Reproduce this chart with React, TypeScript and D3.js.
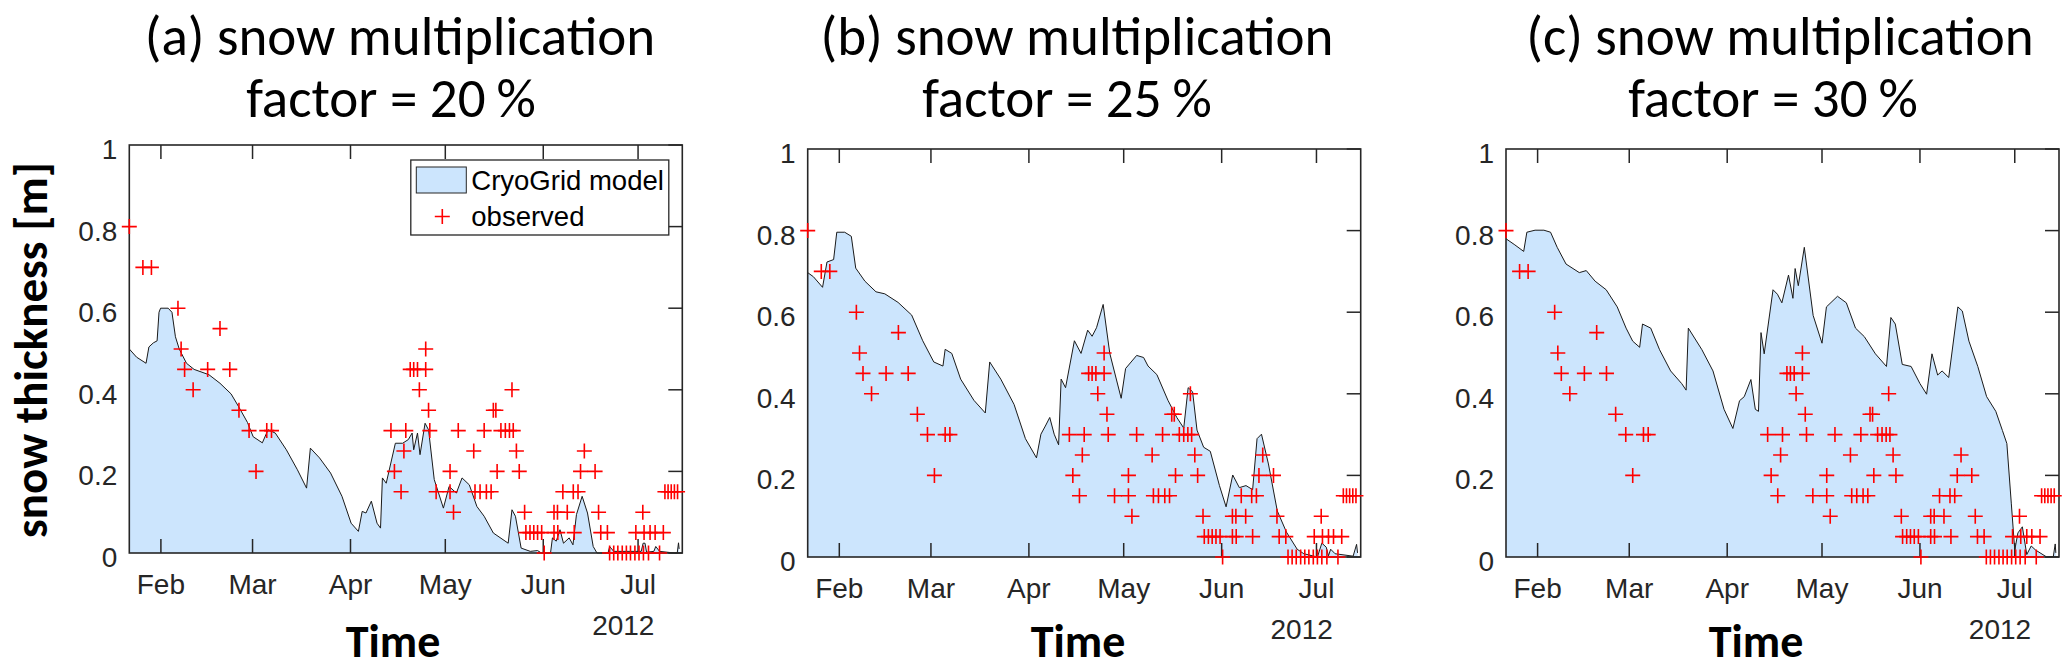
import React from "react";
import * as d3 from "d3";

// ---------- data ----------
// time axis: days counted from 2012-01-22 (UTC)
const START_DATE = "2012-01-22";
const END_DATE = "2012-07-15";
const yearLabel = "2012";
const yTickValues = [0, 0.2, 0.4, 0.6, 0.8, 1];
const panelTitles = ["(a) snow multiplication", "(b) snow multiplication", "(c) snow multiplication"];
const panelSubtitles = ["factor = 20\u2009%", "factor = 25\u2009%", "factor = 30\u2009%"];
const yAxisLabel = "snow thickness [m]";
const xAxisLabel = "Time";
const legendLabels = ["CryoGrid model", "observed"];

// observed snow thickness [day since start, m]
const observed: [number, number][] = [
  [0, 0.8], [4.3, 0.7], [7.0, 0.7], [15.4, 0.6], [16.4, 0.5], [17.5, 0.45], [20.2, 0.4],
  [24.8, 0.45], [28.7, 0.55], [31.8, 0.45], [34.7, 0.35], [37.9, 0.3], [40.1, 0.2],
  [43.5, 0.3], [45, 0.3],
  [82.8, 0.3], [87.5, 0.3], [83.9, 0.2], [86, 0.15], [86.9, 0.25], [88.9, 0.45], [90, 0.45],
  [91.2, 0.45], [91.8, 0.4], [93.8, 0.5], [93.8, 0.45], [94.7, 0.35], [95.1, 0.3], [97.1, 0.15],
  [101.5, 0.2], [101.5, 0.15], [102.6, 0.1], [104.1, 0.3], [109, 0.25], [109.4, 0.15],
  [111, 0.15], [113, 0.15], [114.5, 0.15], [112.3, 0.3], [115.2, 0.35], [116, 0.35],
  [116.4, 0.2], [117.6, 0.3], [119, 0.3], [120.3, 0.3], [121.5, 0.3], [121.1, 0.4],
  [122.5, 0.25], [123.4, 0.2], [125.1, 0.1],
  [125.5, 0.05], [126.8, 0.05], [128, 0.05], [129.2, 0.05], [130.5, 0.05], [131.3, 0],
  [134.4, 0.1], [135.5, 0.1], [138.6, 0.1], [137.2, 0.15], [140.5, 0.15], [142, 0.15],
  [134.4, 0.05], [135.6, 0.05], [140.8, 0.05], [142.8, 0.2], [147.4, 0.2], [144, 0.25],
  [148.5, 0.1], [149.2, 0.05], [151.3, 0.05],
  [152, 0], [153.3, 0], [154.6, 0], [156, 0], [157.3, 0], [158.6, 0], [160, 0], [161.3, 0],
  [162.7, 0], [164.3, 0], [167.8, 0],
  [162.5, 0.1], [160.3, 0.05], [162.9, 0.05], [164.8, 0.05], [166.4, 0.05], [169, 0.05],
  [169.5, 0.15], [170.5, 0.15], [171.5, 0.15], [172.5, 0.15], [173.5, 0.15],
];

// CryoGrid model, factor 20 %
const modelA: [number, number][] = [
  [0, 0.5], [2.3, 0.48], [5.3, 0.465], [6.2, 0.505], [7.6, 0.515], [8.8, 0.52], [9.4, 0.59],
  [9.9, 0.6], [12.3, 0.6], [13.5, 0.59], [14.6, 0.53], [15.8, 0.5], [18.1, 0.465], [20.5, 0.45],
  [25.2, 0.437], [28.7, 0.416], [32.2, 0.39], [34.5, 0.36], [37.4, 0.32], [39.2, 0.285],
  [42.1, 0.27], [43.9, 0.302], [46.2, 0.294], [49.7, 0.253], [53.2, 0.204], [56.1, 0.159],
  [57.3, 0.257], [60.2, 0.233], [63.7, 0.196], [67.3, 0.139], [70.2, 0.073], [72.5, 0.053],
  [73.7, 0.102], [74.9, 0.098], [76.6, 0.127], [78.4, 0.073], [79.5, 0.061], [80.1, 0.184],
  [81.3, 0.171], [84.2, 0.269], [86.5, 0.269], [88.3, 0.278], [89.5, 0.294], [90, 0.253],
  [91.2, 0.294], [92, 0.241], [93.6, 0.318], [94.7, 0.302], [96.5, 0.18], [99.4, 0.11],
  [101.2, 0.163], [103.5, 0.147], [105.3, 0.184], [107.6, 0.167], [110, 0.114], [112.3, 0.09],
  [115.2, 0.049], [119.9, 0.024], [121.1, 0.106], [122.2, 0.09], [124, 0.012], [126.9, 0.004],
  [129.2, 0.006], [130.4, 0], [133.3, 0], [133.9, 0.037], [135.1, 0.029], [136.3, 0.057],
  [137.4, 0.024], [139.2, 0.037], [140.4, 0.02], [141.5, 0.094], [143.3, 0.139], [145, 0.098],
  [146.8, 0.016], [148, 0], [151.5, 0], [152, 0.016], [153.3, 0.004], [162, 0.004],
  [162.6, 0.024], [163.2, 0.024], [163.7, 0.002], [166, 0.004], [166.6, 0.016], [167.8, 0.004],
  [172.5, 0], [173.4, 0], [173.8, 0.025], [174, 0.01],
];

// CryoGrid model, factor 25 %
const modelB: [number, number][] = [
  [0, 0.697], [1.8, 0.687], [4.7, 0.661], [6.1, 0.723], [8.2, 0.729], [9.2, 0.796],
  [11.7, 0.796], [13.8, 0.786], [15.2, 0.708], [18.1, 0.676], [21.6, 0.65], [24.4, 0.645],
  [28.6, 0.624], [32.9, 0.593], [36.4, 0.53], [39.9, 0.478], [42.8, 0.468], [43.5, 0.509],
  [45.6, 0.499], [48.4, 0.436], [52.6, 0.384], [56.2, 0.353], [57.6, 0.478], [61.1, 0.436],
  [65.3, 0.374], [68.9, 0.29], [72.4, 0.243], [73.8, 0.301], [75.2, 0.321], [76.6, 0.342],
  [78, 0.301], [79.4, 0.275], [80.2, 0.436], [81.6, 0.415], [84.4, 0.53], [86.5, 0.499],
  [88.6, 0.556], [90, 0.541], [91.4, 0.562], [93.5, 0.619], [95.6, 0.499], [99.2, 0.389],
  [100.6, 0.462], [104.1, 0.494], [106.3, 0.489], [107.7, 0.468], [110.5, 0.447], [114, 0.384],
  [116.8, 0.342], [119, 0.316], [120.4, 0.415], [121.8, 0.405], [123.2, 0.311], [125.3, 0.269],
  [127.4, 0.259], [130.3, 0.175], [132.4, 0.123], [134.5, 0.201], [136.6, 0.17], [138.7, 0.175],
  [140.8, 0.165], [142.2, 0.29], [143.6, 0.301], [145.8, 0.228], [148.6, 0.113], [151.5, 0.061],
  [154.9, 0.019], [157, 0.008], [161.3, 0], [162.7, 0.034], [164.1, 0.024], [164.8, 0.003],
  [165.5, 0.019], [166.9, 0.008], [172.6, 0.002], [173.7, 0.031], [174, 0.01],
];

// CryoGrid model, factor 30 %
const modelC: [number, number][] = [
  [0, 0.78], [2.8, 0.765], [5.6, 0.749], [6.6, 0.796], [9.2, 0.801], [12, 0.801], [14.1, 0.796],
  [16.2, 0.759], [19, 0.718], [23.2, 0.697], [25.4, 0.702], [28.2, 0.676], [31.7, 0.655],
  [35.2, 0.613], [38, 0.561], [40.1, 0.529], [42.3, 0.514], [43.2, 0.571], [45.8, 0.561],
  [48.6, 0.508], [52.1, 0.456], [55.6, 0.425], [57, 0.409], [57.7, 0.561], [62, 0.508],
  [65.5, 0.456], [69, 0.362], [71.8, 0.315], [73.9, 0.383], [75.4, 0.393], [77.5, 0.435],
  [78.9, 0.362], [79.9, 0.357], [80.7, 0.55], [81.7, 0.498], [84.5, 0.655], [85.9, 0.644],
  [87.3, 0.623], [89.4, 0.691], [90.8, 0.634], [91.5, 0.707], [92.5, 0.665], [94.4, 0.759],
  [97.2, 0.592], [100, 0.524], [101.4, 0.613], [104.9, 0.639], [107.7, 0.623], [110.6, 0.561],
  [113.4, 0.54], [116.9, 0.498], [120.4, 0.467], [121.8, 0.587], [123.2, 0.571], [125.4, 0.472],
  [128.2, 0.467], [131, 0.425], [133.1, 0.399], [134.8, 0.498], [136.6, 0.446], [138, 0.456],
  [140.1, 0.44], [143, 0.613], [144.4, 0.603], [146.5, 0.529], [149.3, 0.467], [152.1, 0.393],
  [155, 0.357], [157.1, 0.31], [158.5, 0.278], [159.9, 0.132], [161, 0.017], [162, 0.059],
  [163.4, 0.074], [164.8, 0.006], [166.2, 0.027], [167.6, 0.017], [171.1, 0], [173.2, 0.001],
  [173.8, 0.032], [174, 0.01],
];

const models = [modelA, modelB, modelC];

// ---------- styling ----------
const W = 553;
const H = 408;
const panelLeft = [129.3, 807.7, 1506];
const panelTop = [145, 149, 149];
const titleCenters1 = [400, 1077, 1780];
const titleCenters2 = [391, 1067, 1773];
const timeCenters = [393, 1078, 1756];
const AXIS = "#262626";
const FILL = "#cce5fd";
const RED = "#ff0000";
const TITLE_FONT = "Carlito, Lato, 'Open Sans', sans-serif";
const TICK_FONT = "'Liberation Sans', Arial, sans-serif";
const TICK_LEN = 14;

const startMs = Date.parse(START_DATE + "T00:00:00Z");
const toDate = (d: number) => new Date(startMs + d * 86400000);

function Panel({ idx }: { idx: number }) {
  const left = panelLeft[idx];
  const top = panelTop[idx];
  const x = d3
    .scaleUtc()
    .domain([new Date(START_DATE + "T00:00:00Z"), new Date(END_DATE + "T00:00:00Z")])
    .range([0, W]);
  const y = d3.scaleLinear().domain([0, 1]).range([H, 0]);
  const data = models[idx];
  const area = d3
    .area<[number, number]>()
    .x((d) => x(toDate(d[0])))
    .y0(y(0))
    .y1((d) => y(d[1]));
  const line = d3
    .line<[number, number]>()
    .x((d) => x(toDate(d[0])))
    .y((d) => y(d[1]));
  const months = d3.utcMonth.range(d3.utcMonth.ceil(x.domain()[0]), x.domain()[1]);
  const fmt = d3.utcFormat("%b");
  const plusArm = 7.5;
  return (
    <g>
      <g transform={`translate(${left},${top})`}>
        <path d={area(data) || ""} fill={FILL} stroke="none" />
        <path d={line(data) || ""} fill="none" stroke="#1a1a1a" strokeWidth={1} />
        {months.map((m, i) => (
          <g key={i}>
            <line x1={x(m)} x2={x(m)} y1={H} y2={H - TICK_LEN} stroke={AXIS} strokeWidth={1.5} />
            <line x1={x(m)} x2={x(m)} y1={0} y2={TICK_LEN} stroke={AXIS} strokeWidth={1.5} />
            <text x={x(m)} y={H + 41} textAnchor="middle" fontFamily={TICK_FONT} fontSize={28} fill="#262626">
              {fmt(m)}
            </text>
          </g>
        ))}
        {yTickValues.map((v, i) => (
          <g key={i}>
            <line x1={W} x2={W - TICK_LEN} y1={y(v)} y2={y(v)} stroke={AXIS} strokeWidth={1.5} />
            <text x={-12} y={y(v) + 14} textAnchor="end" fontFamily={TICK_FONT} fontSize={28} fill="#262626">
              {d3.format("~g")(v)}
            </text>
          </g>
        ))}
        <text x={494} y={H + 82} textAnchor="middle" fontFamily={TICK_FONT} fontSize={28} fill="#262626">
          {yearLabel}
        </text>
        <rect x={0} y={0} width={W} height={H} fill="none" stroke={AXIS} strokeWidth={1.6} />
        {observed.map((o, i) => {
          const cx = x(toDate(o[0]));
          const cy = y(o[1]);
          return (
            <path
              key={i}
              d={`M${cx - plusArm},${cy}H${cx + plusArm}M${cx},${cy - plusArm}V${cy + plusArm}`}
              stroke={RED}
              strokeWidth={1.6}
              fill="none"
            />
          );
        })}
        {idx === 0 && (
          <g>
            <rect x={281.5} y={15} width={258} height={75} fill="#fff" stroke={AXIS} strokeWidth={1.3} />
            <rect x={287} y={22} width={50} height={26} fill={FILL} stroke={AXIS} strokeWidth={1} />
            <text x={342} y={45} fontFamily={TICK_FONT} fontSize={27.5} fill="#000">
              {legendLabels[0]}
            </text>
            <path
              d={`M${313 - plusArm},71.5H${313 + plusArm}M313,${71.5 - plusArm}V${71.5 + plusArm}`}
              stroke={RED}
              strokeWidth={1.6}
            />
            <text x={342} y={81} fontFamily={TICK_FONT} fontSize={27.5} fill="#000">
              {legendLabels[1]}
            </text>
          </g>
        )}
      </g>
      <text x={titleCenters1[idx]} y={55} textAnchor="middle" fontFamily={TITLE_FONT} fontSize={55} fill="#000">
        {panelTitles[idx]}
      </text>
      <text x={titleCenters2[idx]} y={117} textAnchor="middle" fontFamily={TITLE_FONT} fontSize={55} fill="#000">
        {panelSubtitles[idx]}
      </text>
      <text x={timeCenters[idx]} y={657} textAnchor="middle" fontFamily={TITLE_FONT} fontWeight="bold" fontSize={46} fill="#000">
        {xAxisLabel}
      </text>
    </g>
  );
}

export default function App() {
  return (
    <svg
      width={2067}
      height={668}
      viewBox="0 0 2067 668"
      style={{ position: "absolute", left: 0, top: 0, background: "#fff" }}
    >
      <rect x={0} y={0} width={2067} height={668} fill="#fff" />
      {[0, 1, 2].map((i) => (
        <Panel key={i} idx={i} />
      ))}
      <text
        transform="translate(47,350) rotate(-90)"
        textAnchor="middle"
        fontFamily={TITLE_FONT}
        fontWeight="bold"
        fontSize={47}
        fill="#000"
      >
        {yAxisLabel}
      </text>
    </svg>
  );
}
